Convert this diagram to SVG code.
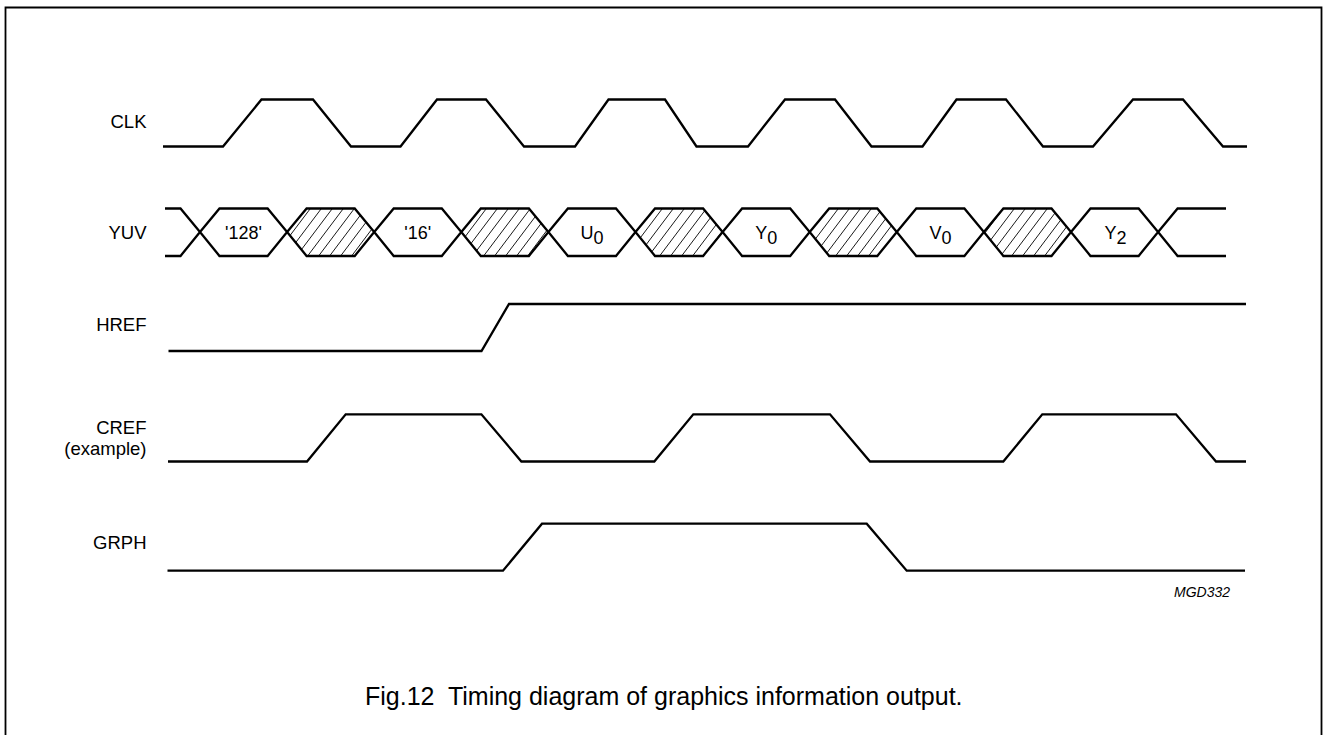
<svg xmlns="http://www.w3.org/2000/svg" width="1327" height="735" viewBox="0 0 1327 735">
<style>
.w{fill:none;stroke:#000;stroke-width:2.3;stroke-linejoin:miter}
.hx{fill:#fff;stroke:#000;stroke-width:2.3}
.hh{fill:url(#hatch);stroke:#000;stroke-width:2.3}
.lbl{font-family:"Liberation Sans",Arial,sans-serif;font-size:18.5px;fill:#000;text-anchor:end}
.val{font-family:"Liberation Sans",Arial,sans-serif;font-size:18px;fill:#000;text-anchor:middle}
.code{font-family:"Liberation Sans",Arial,sans-serif;font-size:14px;font-style:italic;fill:#000;text-anchor:end}
.cap{font-family:"Liberation Sans",Arial,sans-serif;font-size:25px;fill:#000}
</style>
<defs>
<pattern id="hatch" patternUnits="userSpaceOnUse" width="11" height="11" patternTransform="skewX(-37)">
<rect x="-1" y="-1" width="13" height="13" fill="#fff"/>
<path d="M5.5,-1 V12" stroke="#000" stroke-width="0.9"/>
</pattern>
</defs>
<rect width="1327" height="735" fill="#fff"/>
<g id="frame">
<path d="M5.5,740 V7.5 H1321.5 V740" fill="none" stroke="#000" stroke-width="1.8"/>
</g>
<g id="labels">
<text class="lbl" x="146.5" y="127.7">CLK</text>
<text class="lbl" x="146.5" y="239">YUV</text>
<text class="lbl" x="146.5" y="330.7">HREF</text>
<text class="lbl" x="146.5" y="434">CREF</text>
<text class="lbl" x="146.5" y="455">(example)</text>
<text class="lbl" x="146.5" y="549">GRPH</text>
</g>
<g id="connectors">
<g id="clk">
<path class="w" d="M163,146.5 H223 L261.5,99.5 H313 L351,146.5 H400.5 L437,99.5 H486 L524,146.5 H575 L608.5,99.5 H665 L696.5,146.5 H748 L785,99.5 H835 L871.5,146.5 H922.5 L956.5,99.5 H1006 L1043,146.5 H1093 L1133,99.5 H1183 L1223,146.5 H1247"/>
</g>
<g id="yuv">
<path class="w" d="M165,208.5 H180.5 L200,232 L180.5,256 H165"/>
<polygon class="hx" points="200,232 219.5,208.5 267.6,208.5 287.1,232 267.6,256 219.5,256"/>
<polygon class="hh" points="287.1,232 306.6,208.5 354.7,208.5 374.2,232 354.7,256 306.6,256"/>
<polygon class="hx" points="374.2,232 393.7,208.5 441.8,208.5 461.3,232 441.8,256 393.7,256"/>
<polygon class="hh" points="461.3,232 480.8,208.5 528.9,208.5 548.4,232 528.9,256 480.8,256"/>
<polygon class="hx" points="548.4,232 567.9,208.5 616,208.5 635.5,232 616,256 567.9,256"/>
<polygon class="hh" points="635.5,232 655,208.5 703.1,208.5 722.6,232 703.1,256 655,256"/>
<polygon class="hx" points="722.6,232 742.1,208.5 790.2,208.5 809.7,232 790.2,256 742.1,256"/>
<polygon class="hh" points="809.7,232 829.2,208.5 877.3,208.5 896.8,232 877.3,256 829.2,256"/>
<polygon class="hx" points="896.8,232 916.3,208.5 964.4,208.5 983.9,232 964.4,256 916.3,256"/>
<polygon class="hh" points="983.9,232 1003.4,208.5 1051.5,208.5 1071,232 1051.5,256 1003.4,256"/>
<polygon class="hx" points="1071,232 1090.5,208.5 1138.6,208.5 1158.1,232 1138.6,256 1090.5,256"/>
<path class="w" d="M1158.1,232 L1177.6,208.5 H1226 M1158.1,232 L1177.6,256 H1226"/>
</g>
<g id="href">
<path class="w" d="M168.5,351 H481.5 L509,304 H1246"/>
</g>
<g id="cref">
<path class="w" d="M168,461.5 H307 L345.7,414.3 H481.4 L521.4,461.5 H654.3 L693.3,414.3 H830 L870,461.5 H1003.3 L1042.3,414.3 H1176 L1216,461.5 H1246"/>
</g>
<g id="grph">
<path class="w" d="M167.5,570.7 H503 L542,523.7 H866.7 L906.7,570.7 H1245"/>
</g>
</g>
<g id="values">
<text class="val" x="243.5" y="239">'128'</text>
<text class="val" x="417.7" y="239">'16'</text>
<text class="val" x="592" y="239">U<tspan dy="4.5">0</tspan></text>
<text class="val" x="766.2" y="239">Y<tspan dy="4.5">0</tspan></text>
<text class="val" x="940.4" y="239">V<tspan dy="4.5">0</tspan></text>
<text class="val" x="1115.5" y="239">Y<tspan dy="4.5">2</tspan></text>
</g>
<g id="caption">
<text class="code" x="1230" y="596.7">MGD332</text>
<text class="cap" x="365" y="705" xml:space="preserve">Fig.12  Timing diagram of graphics information output.</text>
</g>
</svg>
